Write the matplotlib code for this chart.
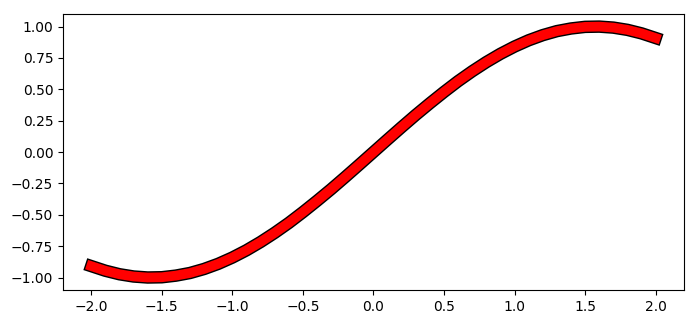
import matplotlib
matplotlib.use("Agg")
import matplotlib.pyplot as plt
import matplotlib.patheffects as pe

# values (x step 0.1 from -2.0 to 2.0)
x_vals = [-2.0, -1.9, -1.8, -1.7, -1.6, -1.5, -1.4, -1.3, -1.2, -1.1, -1.0,
          -0.9, -0.8, -0.7, -0.6, -0.5, -0.4, -0.3, -0.2, -0.1, 0.0,
          0.1, 0.2, 0.3, 0.4, 0.5, 0.6, 0.7, 0.8, 0.9, 1.0,
          1.1, 1.2, 1.3, 1.4, 1.5, 1.6, 1.7, 1.8, 1.9, 2.0]
y_vals = [-0.909, -0.946, -0.974, -0.992, -1.000, -0.998, -0.985, -0.964, -0.932, -0.891, -0.841,
          -0.783, -0.717, -0.644, -0.565, -0.479, -0.389, -0.296, -0.199, -0.100, 0.000,
          0.100, 0.199, 0.296, 0.389, 0.479, 0.565, 0.644, 0.717, 0.783, 0.841,
          0.891, 0.932, 0.964, 0.985, 0.998, 1.000, 0.992, 0.974, 0.946, 0.909]

fig = plt.figure(figsize=(7.0, 3.27), dpi=100)
ax = fig.add_axes([0.09, 0.113, 0.887, 0.844])
ax.plot(x_vals, y_vals, color='red', linewidth=7,
        path_effects=[pe.Stroke(linewidth=9, foreground='black'), pe.Normal()])
fig.savefig("out.png", dpi=100)
